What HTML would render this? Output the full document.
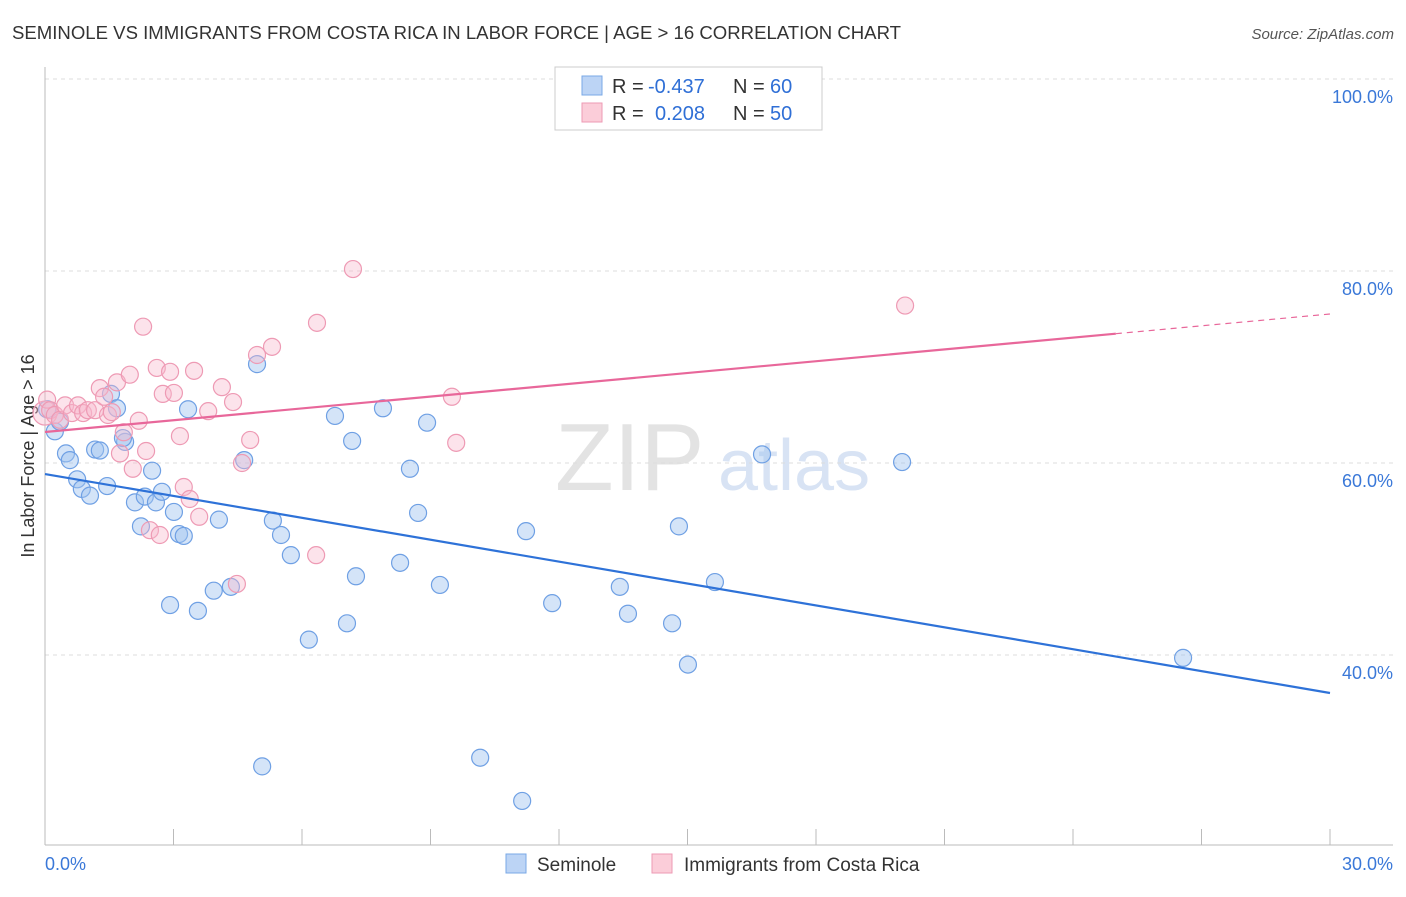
<!DOCTYPE html>
<html><head><meta charset="utf-8"><style>
body{margin:0;background:#fff;font-family:"Liberation Sans",sans-serif}
svg text{font-family:"Liberation Sans",sans-serif}
</style></head><body>
<svg id="chart" width="1406" height="892" xmlns="http://www.w3.org/2000/svg">
<text x="12" y="39" font-size="18" fill="#333" textLength="889" lengthAdjust="spacingAndGlyphs">SEMINOLE VS IMMIGRANTS FROM COSTA RICA IN LABOR FORCE | AGE &gt; 16 CORRELATION CHART</text>
<text x="1394" y="39" font-size="15" fill="#555" text-anchor="end" font-style="italic">Source: ZipAtlas.com</text>
<text x="555" y="490" font-size="96" fill="#ddd" font-family="Liberation Serif" opacity="0.8">ZIP</text>
<text x="718" y="490" font-size="72" fill="#c8d8f0" opacity="0.7">atlas</text>
<text transform="translate(34,456) rotate(-90)" font-size="18" fill="#333" text-anchor="middle">In Labor Force | Age &gt; 16</text>
<g id="grid"></g><g id="pts"></g><g id="lines"></g>
<g>
<rect x="555" y="67" width="267" height="63" fill="#fff" stroke="#ccc"/>
<rect x="582" y="76" width="20" height="19" fill="#bcd4f5" stroke="#7aa8e6"/>
<rect x="582" y="103" width="20" height="19" fill="#fbcdd9" stroke="#ee9ab4"/>
<text x="612" y="93" font-size="20" fill="#333">R =</text>
<text x="648" y="93" font-size="20" fill="#2f6fd6">-0.437</text>
<text x="733" y="93" font-size="20" fill="#333">N =</text>
<text x="770" y="93" font-size="20" fill="#2f6fd6">60</text>
<text x="612" y="120" font-size="20" fill="#333">R =</text>
<text x="655" y="120" font-size="20" fill="#2f6fd6">0.208</text>
<text x="733" y="120" font-size="20" fill="#333">N =</text>
<text x="770" y="120" font-size="20" fill="#2f6fd6">50</text>
</g>
<g>
<rect x="506" y="854" width="20" height="19" fill="#bcd4f5" stroke="#7aa8e6"/>
<text x="537" y="871" font-size="19" fill="#333">Seminole</text>
<rect x="652" y="854" width="20" height="19" fill="#fbcdd9" stroke="#ee9ab4"/>
<text x="684" y="871" font-size="19" fill="#333">Immigrants from Costa Rica</text>
</g>
</svg>
<script>
const xTicks=[0,30];
const yTicks=[100,80,60,40];
const blueX=[0.05,0.23,0.35,0.49,0.58,0.75,0.86,1.05,1.17,1.28,1.45,1.54,1.68,1.87,1.82,2.1,2.24,2.33,2.5,2.59,2.73,2.92,3.01,3.13,3.24,3.34,3.57,3.94,4.06,4.34,4.65,4.95,5.07,5.32,5.51,5.74,6.16,6.77,7.05,7.17,7.26,7.89,8.29,8.52,8.71,8.92,9.22,10.16,11.14,11.23,11.84,13.42,13.61,14.64,14.8,15.01,15.64,16.74,20.01,26.57];
const blueY=[65.6,63.3,64.3,61.0,60.3,58.3,57.3,56.6,61.4,61.3,57.6,67.2,65.7,62.2,62.6,55.9,53.4,56.5,59.2,55.9,57.0,45.2,54.9,52.6,52.4,65.6,44.6,46.7,54.1,47.1,60.3,70.3,28.4,54.0,52.5,50.4,41.6,64.9,43.3,62.3,48.2,65.7,49.6,59.4,54.8,64.2,47.3,29.3,24.8,52.9,45.4,47.1,44.3,43.3,53.4,39.0,47.6,60.9,60.1,39.7];
const pinkX=[0.0,0.05,0.12,0.23,0.35,0.47,0.63,0.77,0.89,1.0,1.17,1.28,1.38,1.47,1.56,1.68,1.75,1.84,1.98,2.05,2.19,2.29,2.36,2.45,2.61,2.68,2.75,2.92,3.01,3.15,3.24,3.38,3.48,3.6,3.81,4.13,4.39,4.48,4.6,4.79,4.95,5.3,6.35,6.33,7.19,9.5,9.6,20.08];
const pinkY=[65.2,66.6,65.5,65.0,64.5,66.0,65.2,66.0,65.2,65.5,65.5,67.8,66.9,65.0,65.3,68.4,61.0,63.2,69.2,59.4,64.4,74.2,61.25,53.0,69.9,52.5,67.2,69.5,67.3,62.8,57.5,56.25,69.6,54.4,65.4,67.9,66.35,47.4,60.0,62.4,71.25,72.1,74.6,50.4,80.2,66.9,62.1,76.4];
const blueLineX=[0,30],blueLineY=[58.85,36.04];
const pinkLineX=[0,25,30],pinkLineY=[63.23,73.47,75.52];
const NS="http://www.w3.org/2000/svg";
const X=v=>45+v*(1285/30), Y=v=>79+(100-v)*9.6;
function mk(t,a,p){const e=document.createElementNS(NS,t);for(const k in a)e.setAttribute(k,a[k]);p.appendChild(e);return e;}
const g=document.getElementById('grid');
yTicks.forEach(t=>{
 const l=mk('line',{x1:45,x2:1393,y1:Y(t),y2:Y(t),stroke:'#ddd','stroke-dasharray':'4,4'},g);
 
 
 const tx=mk('text',{x:1393,y:Y(t)+24,'font-size':18,fill:'#3a78d8','text-anchor':'end'},g);
 tx.textContent=t.toFixed(1)+'%';
 
 
});
const ax=mk('line',{x1:45,x2:45,y1:67,y2:845,stroke:'#bbb'},g);


const bx=mk('line',{x1:45,x2:1393,y1:845,y2:845,stroke:'#bbb'},g);


for(let i=0;i<=10;i++){const tk=mk('line',{x1:X(i*3),x2:X(i*3),y1:829,y2:845,stroke:'#bbb'},g);
 
 }
xTicks.forEach(t=>{const tx=mk('text',{x:t==0?45:1393,y:870,'font-size':18,fill:'#3a78d8','text-anchor':t==0?'start':'end'},g);
 tx.textContent=t.toFixed(1)+'%';
 
 });
const pg=document.getElementById('pts');
blueX.forEach((v,i)=>{const c=mk('circle',{cx:X(v),cy:Y(blueY[i]),r:8.5,fill:'rgba(160,195,240,0.45)',stroke:'#6fa0e4','stroke-width':1.2},pg);
 
 });
pinkX.forEach((v,i)=>{const c=mk('circle',{cx:X(v),cy:Y(pinkY[i]),r:i==0?12:8.5,fill:'rgba(248,185,205,0.4)',stroke:'#ee9ab4','stroke-width':1.2},pg);
 
 });
const lg=document.getElementById('lines');
const bl=mk('line',{x1:X(blueLineX[0]),y1:Y(blueLineY[0]),x2:X(blueLineX[1]),y2:Y(blueLineY[1]),stroke:'#2e72d8','stroke-width':2.2},lg);


const pl=mk('line',{x1:X(pinkLineX[0]),y1:Y(pinkLineY[0]),x2:X(pinkLineX[1]),y2:Y(pinkLineY[1]),stroke:'#e8679a','stroke-width':2.2},lg);


const pd=mk('line',{x1:X(pinkLineX[1]),y1:Y(pinkLineY[1]),x2:X(pinkLineX[2]),y2:Y(pinkLineY[2]),stroke:'#e8679a','stroke-width':1.2,'stroke-dasharray':'6,5'},lg);


</script>
</body></html>
